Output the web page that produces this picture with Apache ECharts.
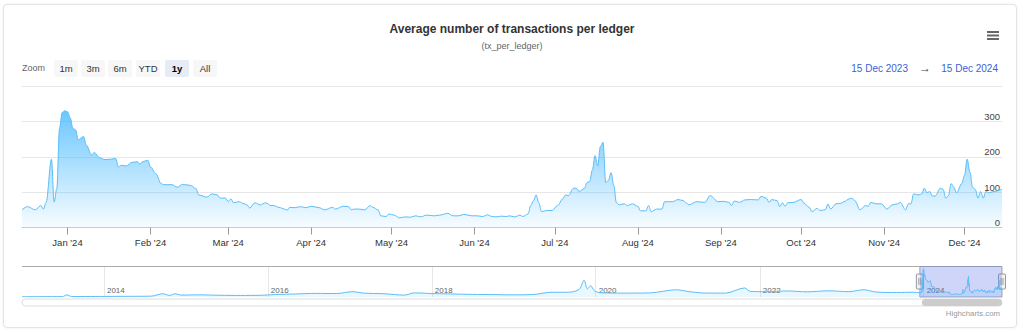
<!DOCTYPE html>
<html><head><meta charset="utf-8">
<script src="https://cdn.jsdelivr.net/npm/echarts@6/dist/echarts.min.js"></script>
<style>
html,body{margin:0;padding:0;background:#fff;}
#card{position:absolute;left:3px;top:4px;width:1012px;height:322px;border:1px solid #e4e4e4;border-radius:4px;box-shadow:0 0 3px rgba(0,0,0,0.07);}
#chart{position:absolute;left:0;top:0;width:1024px;height:332px;}
</style></head><body>
<div id="card"></div><div id="chart"></div>
<script>
// ---------- texts ----------
const titleText = 'Average number of transactions per ledger';
const subtitleText = '(tx_per_ledger)';
const zoomLabel = 'Zoom';
const rangeButtons = ['1m', '3m', '6m', 'YTD', '1y', 'All'];
const selectedButton = '1y';
const rangeFromText = '15 Dec 2023';
const rangeToText = '15 Dec 2024';
const creditText = 'Highcharts.com';

// ---------- axes ----------
const selStart = '2023-12-15';
const selEnd = '2024-12-15';
const historyStart = '2013-01-01';
const monthTickDates = ['2024-01-01','2024-02-01','2024-03-01','2024-04-01','2024-05-01','2024-06-01','2024-07-01','2024-08-01','2024-09-01','2024-10-01','2024-11-01','2024-12-01'];
const monthTickLabels = ["Jan '24","Feb '24","Mar '24","Apr '24","May '24","Jun '24","Jul '24","Aug '24","Sep '24","Oct '24","Nov '24","Dec '24"];
const yearTickDates = ['2014-01-01','2016-01-01','2018-01-01','2020-01-01','2022-01-01','2024-01-01'];
const yearTickLabels = ['2014','2016','2018','2020','2022','2024'];
const yMax = 400, yStep = 100;

// ---------- data: last year (daily readings) ----------
const txMonths = ['2023-12','2024-01','2024-02','2024-03','2024-04','2024-05','2024-06','2024-07','2024-08','2024-09','2024-10','2024-11','2024-12'];
const txDays = [
  [15,17,20,22,23,24,26,27,28,29,30,31],
  [1,2,3,4,5,7,8,10,11,13,15,17,19,20,21,23,25,27,28,29,31],
  [1,3,5,6,9,11,13,14,16,18,19,22,24,26,27,29],
  [1,2,3,5,7,8,9,11,13,15,17,18,20,22,23,24,26,28,30],
  [1,4,6,9,10,13,15,16,17,19,21,23,24,26,27,29,30],
  [2,4,6,8,10,12,14,17,19,22,24,26,28,31],
  [2,4,6,7,9,11,13,14,16,18,19,21,22,23,24,25,26,28,30],
  [2,4,5,6,8,9,10,12,13,14,15,16,17,18,19,20,21,22,23,24,25,27,28,30],
  [1,2,4,5,6,8,10,11,14,16,18,19,20,23,26,28,31],
  [2,4,5,6,8,10,12,15,16,18,19,20,22,23,24,25,26,28],
  [1,2,4,5,7,8,10,11,12,14,16,17,19,20,21,23,25,26,27,29,31],
  [2,4,6,7,9,10,11,12,14,15,16,17,18,19,20,22,23,24,25,26,27,28,30],
  [1,2,3,4,5,6,7,8,9,10,12,15]
];
const txValues = [
  [50,59,50,62,52,71,193,72,110,280,325,330],
  [327,310,281,276,248,257,233,205,212,197,192,193,195,171,176,174,184,186,179,186,190],
  [171,152,124,121,121,114,122,121,119,110,92,86,95,92,83,83],
  [73,81,70,73,67,64,55,70,64,70,62,62,57,52,49,57,56,59,56],
  [60,56,50,57,52,60,59,50,52,52,50,62,57,50,33,31,38],
  [35,27,30,29,33,30,35,33,35,40,33,33,37,33],
  [33,31,36,32,30,32,31,33,30,35,31,38,62,75,92,70,45,48,48],
  [62,81,92,90,111,111,102,110,127,130,162,203,174,229,241,127,133,155,119,70,64,67,62,67],
  [60,47,47,62,45,52,52,73,73,79,76,70,64,73,71,90,73],
  [74,71,62,75,71,78,79,78,88,83,71,79,76,59,70,60,70,71],
  [79,69,57,45,54,48,50,66,52,67,69,73,81,83,76,50,62,60,71,67,67],
  [52,64,67,71,50,67,67,95,92,95,111,98,102,89,89,111,108,83,90,124,114,98,124],
  [148,193,157,114,108,83,102,83,102,98,102,108]
];

// ---------- data: full history (navigator) ----------
const historyDates = ['2013-01-01','2013-04-01','2013-07-01','2013-07-20','2013-08-10','2013-11-01','2014-02-01','2014-05-01','2014-08-01','2014-09-20','2014-10-20','2014-11-15','2014-12-10','2015-03-01','2015-06-01','2015-09-01','2015-12-01','2016-02-01','2016-05-01','2016-08-01','2016-11-01','2017-01-15','2017-03-01','2017-06-01','2017-09-01','2017-10-15','2018-01-01','2018-04-01','2018-07-01','2018-10-01','2019-01-01','2019-04-01','2019-06-20','2019-09-01','2019-10-20','2019-11-10','2019-11-25','2019-12-10','2019-12-25','2020-01-20','2020-05-01','2020-09-01','2020-12-25','2021-02-20','2021-05-01','2021-08-01','2021-10-25','2021-11-20','2022-02-01','2022-05-01','2022-08-01','2022-11-01','2023-02-01','2023-04-10','2023-06-01','2023-09-01','2023-11-15'];
const historyValues = [3,4,5,25,5,6,7,8,10,38,18,38,22,25,20,18,20,28,35,42,40,62,45,38,22,48,40,35,30,28,25,30,55,55,90,195,95,130,75,50,45,48,84,62,46,45,105,65,62,70,60,72,62,84,58,52,55];

// ---------- build ----------
const pad = n => String(n).padStart(2, '0');
const ts = s => +echarts.number.parseDate(s);
const mainData = [];
txMonths.forEach((m, i) => txDays[i].forEach((d, j) => mainData.push([ts(m + '-' + pad(d)), txValues[i][j]])));
const navData = historyDates.map((d, i) => [ts(d), historyValues[i]]).concat(mainData);
const monthTickValues = monthTickDates.map(ts);
const yearTickValues = yearTickDates.map(ts);

const FONT = '"Liberation Sans", Arial, Helvetica, sans-serif';

const option = {
  animation: false,
  textStyle: { fontFamily: FONT },
  grid: [
    { left: 22, right: 22, top: 86, height: 141.5 },
    { left: 22, right: 22, top: 266, height: 31 }
  ],
  xAxis: [
    { type: 'value', gridIndex: 0, min: ts(selStart), max: ts(selEnd),
      axisLine: { lineStyle: { color: '#ccc' } },
      axisTick: { show: true, length: 7, lineStyle: { color: '#999' }, customValues: monthTickValues },
      axisLabel: { customValues: monthTickValues, color: '#333', fontSize: 9.5, margin: 10, fontFamily: FONT,
        formatter: v => { const i = monthTickValues.indexOf(v); return i >= 0 ? monthTickLabels[i] : ''; } },
      splitLine: { show: false } },
    { type: 'value', gridIndex: 1, min: ts(historyStart), max: ts(selEnd),
      axisLine: { show: false },
      axisTick: { show: false, customValues: yearTickValues },
      axisLabel: { inside: true, customValues: yearTickValues, color: '#666', fontSize: 8, align: 'left', margin: 3, padding: [0, 0, 0, 3], fontFamily: FONT,
        formatter: v => { const i = yearTickValues.indexOf(v); return i >= 0 ? yearTickLabels[i] : ''; } },
      splitLine: { show: true, lineStyle: { color: '#e6e6e6' } } }
  ],
  yAxis: [
    { type: 'value', gridIndex: 0, min: 0, max: yMax, interval: yStep, position: 'right',
      axisLine: { show: false }, axisTick: { show: false },
      axisLabel: { inside: true, margin: 2, verticalAlign: 'bottom', showMaxLabel: false, color: '#444', fontSize: 9.5, fontFamily: FONT },
      splitLine: { lineStyle: { color: '#e6e6e6' } } },
    { type: 'value', gridIndex: 1, min: 0, max: 360, show: false }
  ],
  series: [
    { type: 'line', xAxisIndex: 0, yAxisIndex: 0, data: mainData, showSymbol: false, smooth: 0.35, smoothMonotone: 'x',
      lineStyle: { color: '#5bbdf8', width: 1 },
      areaStyle: { color: { type: 'linear', x: 0, y: 0, x2: 0, y2: 1, colorStops: [
        { offset: 0, color: 'rgba(44,175,254,1)' }, { offset: 1, color: 'rgba(44,175,254,0.05)' } ] } } },
    { type: 'line', xAxisIndex: 1, yAxisIndex: 1, data: navData, showSymbol: false, smooth: 0.3,
      lineStyle: { color: '#5bbdf8', width: 1 },
      areaStyle: { color: 'rgba(44,175,254,0.15)' },
      markArea: { silent: true, itemStyle: { color: 'rgba(95,115,235,0.3)' },
        data: [[{ xAxis: ts(selStart) }, { xAxis: ts(selEnd) }]] } }
  ]
};

const chart = echarts.init(document.getElementById('chart'), null, { renderer: 'svg' });
chart.setOption(option);

const pL = chart.convertToPixel({ xAxisIndex: 1 }, ts(selStart));
const pR = chart.convertToPixel({ xAxisIndex: 1 }, ts(selEnd));
const navTop = 266, navBot = 297, navL = 22, navR = 1002;

const g = [];
g.push({ type: 'text', left: 'center', top: 23, style: { text: titleText, font: 'bold 12px ' + FONT, fill: '#333' } });
g.push({ type: 'text', left: 'center', top: 41, style: { text: subtitleText, font: '9px ' + FONT, fill: '#666' } });
[31, 34.5, 38].forEach(y => g.push({ type: 'rect', shape: { x: 987, y: y, width: 12, height: 2 }, style: { fill: '#666' } }));
g.push({ type: 'text', x: 22, y: 68, style: { text: zoomLabel, font: '9px ' + FONT, fill: '#666', verticalAlign: 'middle' } });
const btnX = [54, 81, 108, 136, 165, 193];
rangeButtons.forEach((b, i) => {
  const sel = b === selectedButton;
  g.push({ type: 'rect', shape: { x: btnX[i], y: 60, width: 24, height: 17, r: 2 }, style: { fill: sel ? '#e6ebf5' : '#f7f7f7' } });
  g.push({ type: 'text', x: btnX[i] + 12, y: 68.5, style: { text: b, font: (sel ? 'bold ' : '') + '9.5px ' + FONT, fill: sel ? '#000' : '#333', align: 'center', verticalAlign: 'middle' } });
});
g.push({ type: 'text', x: 908, y: 68, style: { text: rangeFromText, font: '10px ' + FONT, fill: '#3b5fd6', align: 'right', verticalAlign: 'middle' } });
g.push({ type: 'text', x: 925, y: 68, style: { text: '\u2192', font: '12px ' + FONT, fill: '#444', align: 'center', verticalAlign: 'middle' } });
g.push({ type: 'text', x: 998, y: 68, style: { text: rangeToText, font: '10px ' + FONT, fill: '#3b5fd6', align: 'right', verticalAlign: 'middle' } });
g.push({ type: 'polyline', shape: { points: [[navL, navTop + 0.5], [pL, navTop + 0.5], [pL, navBot], [pR, navBot], [pR, navTop + 0.5], [navR, navTop + 0.5]] }, style: { stroke: '#aaa', lineWidth: 1, fill: null } });
g.push({ type: 'line', shape: { x1: pL, y1: navTop + 0.5, x2: pR, y2: navTop + 0.5 }, style: { stroke: '#aaa', lineWidth: 1 } });
[pL, pR].forEach(x => {
  g.push({ type: 'rect', shape: { x: x - 3.5, y: 274, width: 7, height: 15, r: 1 }, style: { fill: '#f2f2f2', stroke: '#999', lineWidth: 1 } });
  g.push({ type: 'line', shape: { x1: x - 1, y1: 278, x2: x - 1, y2: 285 }, style: { stroke: '#999', lineWidth: 1 } });
  g.push({ type: 'line', shape: { x1: x + 1, y1: 278, x2: x + 1, y2: 285 }, style: { stroke: '#999', lineWidth: 1 } });
});
g.push({ type: 'rect', shape: { x: navL, y: 299, width: navR - navL, height: 7, r: 3.5 }, style: { fill: '#fff', stroke: '#ddd', lineWidth: 1 } });
g.push({ type: 'rect', shape: { x: pL + 2, y: 299, width: pR - pL - 2, height: 7, r: 3.5 }, style: { fill: '#cccccc' } });
g.push({ type: 'text', x: 1000, y: 313, style: { text: creditText, font: '7.8px ' + FONT, fill: '#999', align: 'right', verticalAlign: 'middle' } });

chart.setOption({ graphic: g });
</script>
</body></html>
